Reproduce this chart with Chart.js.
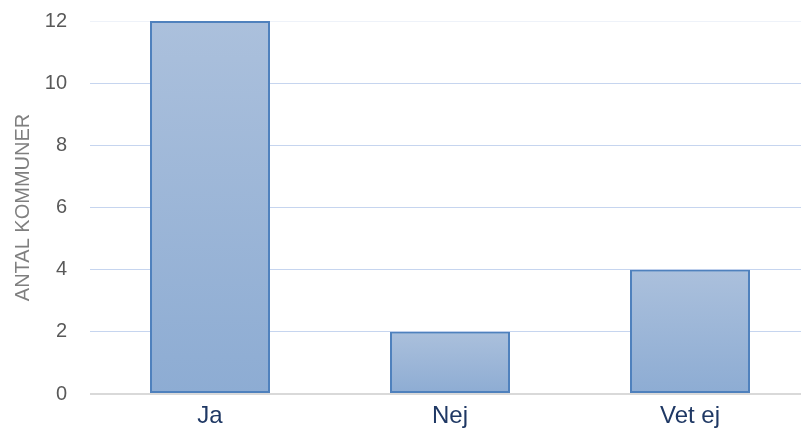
<!DOCTYPE html>
<html>
<head>
<meta charset="utf-8">
<script src="https://cdn.jsdelivr.net/npm/chart.js@4/dist/chart.umd.min.js"></script>
<style>
  html, body { margin: 0; padding: 0; background: #fff; overflow: hidden; }
  #wrap { width: 810px; height: 435px; }
</style>
</head>
<body>
<div id="wrap"><canvas id="c" width="810" height="435"></canvas></div>
<script>
const categories = ['Ja', 'Nej', 'Vet ej'];
const antal = [12, 2, 4];
const yTicks = [0, 2, 4, 6, 8, 10, 12];
const yTitle = 'ANTAL KOMMUNER';

// gradient per stapel, ljusare upptill
const barFill = (ctx) => {
  const chart = ctx.chart;
  const y = chart.scales && chart.scales.y;
  if (!chart.chartArea || !y || ctx.raw === undefined) return '#9cb4d8';
  const top = y.getPixelForValue(ctx.raw);
  const bottom = y.getPixelForValue(0);
  const g = chart.ctx.createLinearGradient(0, top, 0, bottom);
  g.addColorStop(0, '#abc0dc');
  g.addColorStop(1, '#8dacd3');
  return g;
};

new Chart(document.getElementById('c').getContext('2d'), {
  type: 'bar',
  data: {
    labels: categories,
    datasets: [{
      data: antal,
      backgroundColor: barFill,
      borderColor: '#4f81bd',
      borderWidth: 2,
      borderSkipped: false,
      barPercentage: 0.5,
      categoryPercentage: 1
    }]
  },
  options: {
    responsive: false,
    animation: false,
    layout: { padding: { top: 21, right: 0, bottom: 0, left: 0 } },
    plugins: { legend: { display: false }, tooltip: { enabled: false } },
    scales: {
      x: {
        grid: { display: false },
        border: { display: false },
        ticks: { color: '#1f3864', font: { family: 'Liberation Sans, Arial', size: 24 }, padding: 0 },
        afterFit: (s) => { s.height = 41; s.paddingLeft = 0; s.paddingRight = 0; }
      },
      y: {
        min: 0,
        max: 12,
        afterBuildTicks: (s) => { s.ticks = yTicks.map(v => ({ value: v })); },
        grid: {
          color: (c) => c.tick && c.tick.value === 0 ? '#d9d9d9' : (c.tick && c.tick.value === 12 ? '#eef2f9' : '#c6d5ef'),
          lineWidth: (c) => c.tick && c.tick.value === 0 ? 2 : 1,
          drawTicks: false
        },
        border: { display: false },
        ticks: { color: '#595959', font: { family: 'Liberation Sans, Arial', size: 20 }, padding: 23 },
        title: {
          display: true,
          text: yTitle,
          color: '#7f7f7f',
          font: { family: 'Liberation Sans, Arial', size: 20 },
          padding: { top: 11, bottom: 0 }
        },
        afterFit: (s) => { s.width = 90; s.paddingTop = 0; s.paddingBottom = 0; }
      }
    }
  }
});
</script>
</body>
</html>
